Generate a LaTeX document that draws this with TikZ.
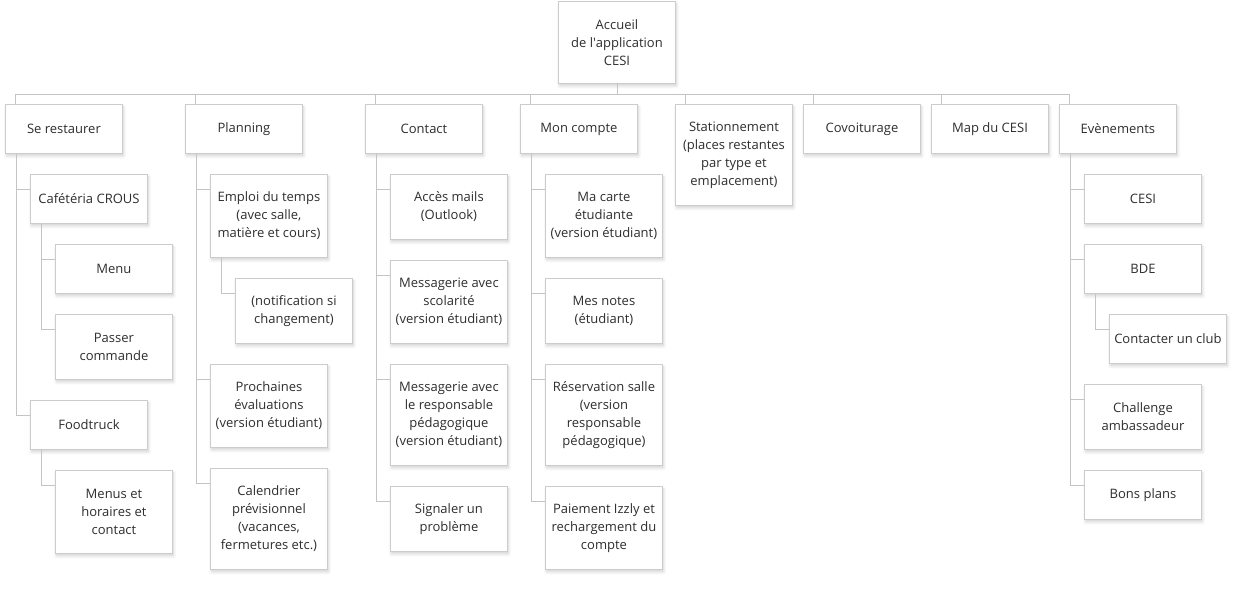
\documentclass[tikz,border=0pt]{standalone}
\usepackage{fontspec}
\setmainfont{Open Sans}
\usetikzlibrary{shadows.blur}
\definecolor{bordergray}{HTML}{CCCCCC}
\definecolor{linegray}{HTML}{C4C4C4}
\definecolor{txtgray}{HTML}{2E2E2E}
\begin{document}
\begin{tikzpicture}[x=1pt,y=-1pt,
  bx/.style={draw=bordergray, line width=0.9pt, fill=white, anchor=north west,
    minimum width=117pt, inner sep=0pt, align=center, text=txtgray,
    font=\fontsize{13pt}{18pt}\selectfont,
    blur shadow={shadow xshift=1pt, shadow yshift=-2.5pt, shadow blur steps=6, shadow opacity=18, shadow blur radius=3pt}},
  cn/.style={draw=linegray, line width=0.9pt}]
\useasboundingbox (0,0) rectangle (1239,600);
% root and top level
\node[bx, minimum height=82pt] (root) at (558,1) {Accueil\\de l\textquotesingle application\\CESI};
\node[bx, minimum height=49pt] (sr) at (5,104) {Se restaurer};
\node[bx, minimum height=49pt] (pl) at (185,104) {Planning};
\node[bx, minimum height=49pt] (ct) at (365,104) {Contact};
\node[bx, minimum height=49pt] (mc) at (520,104) {Mon compte};
\node[bx, minimum height=101pt] (st) at (675,104) {Stationnement\\(places restantes\\par type et\\emplacement)};
\node[bx, minimum height=49pt] (cv) at (803,104) {Covoiturage};
\node[bx, minimum height=49pt] (mp) at (931,104) {Map du CESI};
\node[bx, minimum height=49pt] (ev) at (1059,104) {Evènements};
% Se restaurer
\node[bx, minimum height=49pt] (caf) at (30,174) {Cafétéria CROUS};
\node[bx, minimum height=49pt] (menu) at (55,244) {Menu};
\node[bx, minimum height=65pt] (pc) at (55,314) {Passer\\commande};
\node[bx, minimum height=49pt] (ft) at (30,400) {Foodtruck};
\node[bx, minimum height=83pt] (mh) at (55,470) {Menus et\\horaires et\\contact};
% Planning
\node[bx, minimum height=83pt] (edt) at (210,174) {Emploi du temps\\(avec salle,\\matière et cours)};
\node[bx, minimum height=65pt] (notif) at (235,278) {(notification si\\changement)};
\node[bx, minimum height=83pt] (pe) at (210,364) {Prochaines\\évaluations\\(version étudiant)};
\node[bx, minimum height=101pt] (cal) at (210,468) {Calendrier\\prévisionnel\\(vacances,\\fermetures etc.)};
% Contact
\node[bx, minimum height=65pt] (am) at (390,174) {Accès mails\\(Outlook)};
\node[bx, minimum height=83pt] (ms) at (390,260) {Messagerie avec\\scolarité\\(version étudiant)};
\node[bx, minimum height=101pt] (mr) at (390,364) {Messagerie avec\\le responsable\\pédagogique\\(version étudiant)};
\node[bx, minimum height=65pt] (sg) at (390,486) {Signaler un\\problème};
% Mon compte
\node[bx, minimum height=83pt] (carte) at (545,174) {Ma carte\\étudiante\\(version étudiant)};
\node[bx, minimum height=65pt] (notes) at (545,278) {Mes notes\\(étudiant)};
\node[bx, minimum height=101pt] (res) at (545,364) {Réservation salle\\(version\\responsable\\pédagogique)};
\node[bx, minimum height=83pt] (pay) at (545,486) {Paiement Izzly et\\rechargement du\\compte};
% Evenements
\node[bx, minimum height=49pt] (cesi) at (1084,174) {CESI};
\node[bx, minimum height=49pt] (bde) at (1084,244) {BDE};
\node[bx, minimum height=49pt] (club) at (1109,314) {Contacter un club};
\node[bx, minimum height=65pt] (chal) at (1084,384) {Challenge\\ambassadeur};
\node[bx, minimum height=49pt] (bons) at (1084,470) {Bons plans};
% connectors top level
\foreach \t in {sr,pl,ct,mc,st,cv,mp,ev}{
  \draw[cn] (root.south) -- ++(0,11) -| ([xshift=10pt]\t.north west);
}
% children connectors
\foreach \p/\c in {sr/caf,sr/ft,caf/menu,caf/pc,ft/mh,pl/edt,pl/pe,pl/cal,edt/notif,
  ct/am,ct/ms,ct/mr,ct/sg,mc/carte,mc/notes,mc/res,mc/pay,ev/cesi,ev/bde,ev/chal,ev/bons,bde/club}{
  \draw[cn] ([xshift=11pt]\p.south west) |- ([yshift=-15pt]\c.north west);
}
\end{tikzpicture}
\end{document}
